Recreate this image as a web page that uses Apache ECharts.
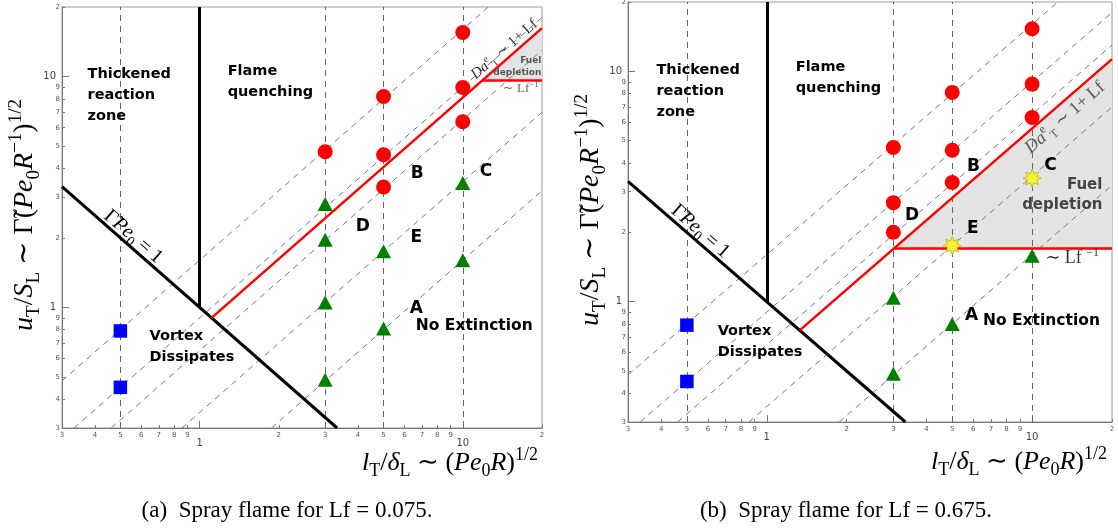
<!DOCTYPE html>
<html><head><meta charset="utf-8">
<script src="https://cdn.jsdelivr.net/npm/echarts@6/dist/echarts.min.js"></script>
<style>html,body{margin:0;padding:0;background:#fff}#c{width:1118px;height:529px}</style>
</head><body><div id="c"></div>
<script>
// ---------- axis ranges & ticks ----------
const xRange = [0.3, 20];
const yRange = [0.3, 20];
const tickValues = [0.3,0.4,0.5,0.6,0.7,0.8,0.9,2,3,4,5,6,7,8,9,20];
const tickLabels = ['3','4','5','6','7','8','9','2','3','4','5','6','7','8','9','2'];
const majorTickValues = [1, 10];
const majorTickLabels = ['1', '10'];

// ---------- guide lines ----------
const guideX = [0.5, 3, 5, 10];              // vertical dashed lines
const guideK = [1.6, 0.9, 0.65, 0.35, 0.16]; // diagonal dashed lines  y = k x
const boundaryLine = [[0.3, 3.33], [3.33, 0.3]];  // Gamma Pe0 = 1
const quenchLine = [[1, 1], [1, 20]];

// ---------- panel (a) Lf = 0.075 ----------
const aRedX = [3, 5, 5, 5, 10, 10, 10];
const aRedY = [4.72, 8.19, 4.58, 3.32, 15.5, 8.96, 6.37];
const aGreenX = [3, 3, 3, 3, 5, 5, 10, 10];
const aGreenY = [2.8, 1.96, 1.05, 0.486, 1.75, 0.81, 3.46, 1.6];
const aBlueX = [0.5, 0.5];
const aBlueY = [0.79, 0.45];
const aDaLine = [[1.11, 0.9], [20, 16.2]];
const aLfLine = [[11.9, 9.6], [20, 9.6]];
const aFill = [[11.9, 9.6], [20, 16.2], [20, 9.6]];

// ---------- panel (b) Lf = 0.675 ----------
const bRedX = [3, 3, 3, 5, 5, 5, 10, 10, 10];
const bRedY = [4.67, 2.69, 2.0, 8.1, 4.54, 3.29, 15.3, 8.8, 6.3];
const bGreenX = [3, 3, 5, 10];
const bGreenY = [1.04, 0.486, 0.8, 1.58];
const bStarX = [5, 10];
const bStarY = [1.75, 3.43];
const bBlueX = [0.5, 0.5];
const bBlueY = [0.79, 0.45];
const bDaLine = [[1.33, 0.75], [20, 11.3]];
const bLfLine = [[3, 1.7], [20, 1.7]];
const bFill = [[3, 1.7], [20, 11.3], [20, 1.7]];

// ---------- texts ----------
const GAMMA = '{r|\u0393\u0303}{i|Pe}{sub|0}{r| = 1}';
const DA = '{i|Da}{sup|e}{sub|T}{r| \u223C 1+ Lf}';
const LF = '{r|\u223C Lf}{sup|\u22121}';
const LF2 = '{r|\u223C Lf }{sup|\u22121}';
const aNotes = [
  ['Thickened\nreaction\nzone', 0.375, 8.3, 'region'],
  ['Flame\nquenching', 1.278, 9.46, 'region'],
  ['Vortex\nDissipates', 0.645, 0.677, 'region'],
  ['No Extinction', 6.63, 0.827, 'plain'],
  ['A', 6.29, 0.99, 'letter'],
  ['B', 6.35, 3.79, 'letter'],
  ['C', 11.6, 3.87, 'letter'],
  ['D', 3.92, 2.23, 'letter'],
  ['E', 6.33, 2.0, 'letter'],
  ['Fuel\ndepletion', 19.9, 11.0, 'fuelSmall'],
  [DA, 14.4, 13.1, 'daSmall'],
  [LF, 14.2, 8.85, 'lfSmall'],
  [GAMMA, 0.56, 2.02, 'gamma']
];
const bNotes = [
  ['Thickened\nreaction\nzone', 0.384, 8.2, 'region'],
  ['Flame\nquenching', 1.286, 9.37, 'region'],
  ['Vortex\nDissipates', 0.653, 0.667, 'region'],
  ['No Extinction', 6.53, 0.82, 'plain'],
  ['A', 5.58, 0.87, 'letter'],
  ['B', 5.68, 3.87, 'letter'],
  ['C', 11.1, 3.9, 'letter'],
  ['D', 3.32, 2.37, 'letter'],
  ['E', 5.68, 2.08, 'letter'],
  ['Fuel\ndepletion', 18.4, 2.89, 'fuelBig'],
  [DA, 13.3, 6.3, 'daBig'],
  [LF2, 11.2, 1.54, 'lfBig'],
  [GAMMA, 0.562, 2.02, 'gamma']
];
const captions = ['(a)  Spray flame for Lf = 0.075.', '(b)  Spray flame for Lf = 0.675.'];

// ---------- styles ----------
const SERIF = "'Liberation Serif', 'DejaVu Serif', serif";
const SANS = "'DejaVu Sans', sans-serif";
function mathRich(size, color) {
  const s = Math.round(size * 0.68);
  return {
    i: {fontFamily: SERIF, fontStyle: 'italic', fontSize: size, color: color, lineHeight: size * 1.3},
    r: {fontFamily: SERIF, fontSize: size, color: color, lineHeight: size * 1.3},
    sub: {fontFamily: SERIF, fontSize: s, color: color, verticalAlign: 'bottom', lineHeight: s * 1.05},
    sup: {fontFamily: SERIF, fontSize: s, color: color, verticalAlign: 'top', lineHeight: s * 1.05}
  };
}
const kindStyle = {
  region: {align: 'left', verticalAlign: 'middle', fontFamily: SANS, fontWeight: 'bold', fontSize: 14.5, lineHeight: 21, color: '#000'},
  plain: {align: 'left', verticalAlign: 'middle', fontFamily: SANS, fontWeight: 'bold', fontSize: 15.5, color: '#000'},
  letter: {align: 'left', verticalAlign: 'middle', fontFamily: SANS, fontWeight: 'bold', fontSize: 17, color: '#000'},
  fuelSmall: {align: 'right', verticalAlign: 'middle', fontFamily: SANS, fontWeight: 'bold', fontSize: 9, lineHeight: 12, color: '#555'},
  fuelBig: {align: 'right', verticalAlign: 'middle', fontFamily: SANS, fontWeight: 'bold', fontSize: 15, lineHeight: 20, color: '#444'},
  daSmall: {align: 'center', verticalAlign: 'middle', rotate: 41, rich: mathRich(15, '#333')},
  daBig: {align: 'center', verticalAlign: 'middle', rotate: 41, rich: mathRich(18, '#555')},
  lfSmall: {align: 'left', verticalAlign: 'middle', rich: mathRich(13, '#666')},
  lfBig: {align: 'left', verticalAlign: 'middle', rich: mathRich(18, '#333')},
  gamma: {align: 'center', verticalAlign: 'middle', rotate: -41, rich: mathRich(20, '#000')}
};

function nearestLabel(v, vals, labs) {
  let best = 0, bd = Infinity;
  vals.forEach((t, i) => { const d = Math.abs(Math.log10(v) - Math.log10(t)); if (d < bd) { bd = d; best = i; } });
  return labs[best];
}
function axisPair(dim, gi, range) {
  const pos = dim === 'x' ? 'bottom' : 'left';
  const base = {type: 'log', logBase: 10, gridIndex: gi, min: range[0], max: range[1], position: pos,
    splitLine: {show: false}, minorTick: {show: false}, axisPointer: {show: false}};
  const minor = Object.assign({}, base, {
    axisLine: {show: true, onZero: false, lineStyle: {color: '#777', width: 1}},
    axisTick: {show: true, inside: true, length: 3, customValues: tickValues, lineStyle: {color: '#777'}},
    axisLabel: {show: true, customValues: tickValues, formatter: v => nearestLabel(v, tickValues, tickLabels),
      fontSize: 7, color: '#555', fontFamily: SANS, margin: dim === 'x' ? 4 : 2, hideOverlap: false}
  });
  const major = Object.assign({}, base, {
    axisLine: {show: false},
    axisTick: {show: true, inside: true, length: 7, customValues: majorTickValues, lineStyle: {color: '#777'}},
    axisLabel: {show: true, customValues: majorTickValues, formatter: v => nearestLabel(v, majorTickValues, majorTickLabels),
      fontSize: 10, color: '#444', fontFamily: SANS, margin: dim === 'x' ? 10 : 6, hideOverlap: false}
  });
  return [minor, major];
}

function starPath(n, rIn) {
  let d = '';
  for (let i = 0; i < 2 * n; i++) {
    const a = i * Math.PI / n - Math.PI / 2;
    const r = i % 2 ? rIn : 1;
    d += (i ? 'L' : 'M') + (50 + 50 * r * Math.cos(a)).toFixed(2) + ' ' + (50 + 50 * r * Math.sin(a)).toFixed(2);
  }
  return 'path://' + d + 'Z';
}
const STAR = starPath(8, 0.55);

function zip(xs, ys) { return xs.map((x, i) => [x, ys[i]]); }

function panelSeries(gi, P) {
  const xi = gi * 2, yi = gi * 2;
  const ax = {xAxisIndex: xi, yAxisIndex: yi};
  const vLines = guideX.map(x => ({coords: [[x, yRange[0]], [x, yRange[1]]]}));
  const dLines = guideK.map(k => {
    const x1 = Math.max(xRange[0], yRange[0] / k), x2 = Math.min(xRange[1], yRange[1] / k);
    return {coords: [[x1, k * x1], [x2, k * x2]]};
  });
  const s = [];
  s.push(Object.assign({
    type: 'custom', coordinateSystem: 'cartesian2d', z: 1, silent: true, clip: true,
    data: [P.fill[0]],
    renderItem: (params, api) => ({
      type: 'polygon', shape: {points: P.fill.map(v => api.coord(v))},
      style: {fill: '#e4e4e4', stroke: null}
    })
  }, ax));
  s.push(Object.assign({type: 'lines', coordinateSystem: 'cartesian2d', z: 2, silent: true, polyline: false,
    lineStyle: {color: '#666', width: 1, type: [6, 5], opacity: 1}, data: vLines}, ax));
  s.push(Object.assign({type: 'lines', coordinateSystem: 'cartesian2d', z: 2, silent: true, polyline: false,
    lineStyle: {color: '#777', width: 1, type: [6, 5], opacity: 1}, data: dLines}, ax));
  s.push(Object.assign({type: 'lines', coordinateSystem: 'cartesian2d', z: 3, silent: true, polyline: false,
    lineStyle: {color: '#000', width: 3, opacity: 1},
    data: [{coords: boundaryLine}, {coords: quenchLine}]}, ax));
  s.push(Object.assign({type: 'lines', coordinateSystem: 'cartesian2d', z: 3, silent: true, polyline: false,
    lineStyle: {color: '#ff0000', width: 2.5, opacity: 1},
    data: [{coords: P.da}, {coords: P.lf}]}, ax));
  s.push(Object.assign({type: 'scatter', z: 4, silent: true, symbol: 'circle', symbolSize: 15,
    itemStyle: {color: '#ff0000', opacity: 1}, data: zip(P.redX, P.redY)}, ax));
  s.push(Object.assign({type: 'scatter', z: 4, silent: true, symbol: 'triangle', symbolSize: [15, 14],
    itemStyle: {color: '#008000', opacity: 1}, data: zip(P.greenX, P.greenY)}, ax));
  s.push(Object.assign({type: 'scatter', z: 4, silent: true, symbol: 'rect', symbolSize: 13.5,
    itemStyle: {color: '#0000ff', opacity: 1}, data: zip(P.blueX, P.blueY)}, ax));
  if (P.starX) {
    s.push(Object.assign({type: 'scatter', z: 4, silent: true, symbol: STAR, symbolSize: 18,
      itemStyle: {color: '#f4f23a', borderColor: '#b8b400', borderWidth: 0.8, opacity: 1}, data: zip(P.starX, P.starY)}, ax));
  }
  s.push(Object.assign({type: 'scatter', z: 5, silent: true, symbolSize: 0, itemStyle: {opacity: 1},
    data: P.notes.map(n => ({value: [n[1], n[2]],
      label: Object.assign({show: true, position: 'inside', opacity: 1, formatter: n[0]}, kindStyle[n[3]])}))}, ax));
  return s;
}

const series = [].concat(
  panelSeries(0, {fill: aFill, da: aDaLine, lf: aLfLine, redX: aRedX, redY: aRedY, greenX: aGreenX, greenY: aGreenY,
    blueX: aBlueX, blueY: aBlueY, notes: aNotes}),
  panelSeries(1, {fill: bFill, da: bDaLine, lf: bLfLine, redX: bRedX, redY: bRedY, greenX: bGreenX, greenY: bGreenY,
    blueX: bBlueX, blueY: bBlueY, starX: bStarX, starY: bStarY, notes: bNotes})
);

const yTitle = '{i|u}{sub|T}{r|/}{i|S}{sub|L}{r| \u223C }{r|\u0393\u0303}{r|(}{i|Pe}{sub|0}{i|R}{sup|\u22121}{r|)}{sup|1/2}';
const xTitle = '{i|l}{sub|T}{r|/}{i|\u03B4}{sub|L}{r| \u223C (}{i|Pe}{sub|0}{i|R}{r|)}{sup|1/2}';

const option = {
  backgroundColor: '#fff',
  animation: false,
  grid: [
    {left: 62, right: 576, top: 7, bottom: 101, show: true, borderColor: '#999', borderWidth: 1, outerBoundsMode: 'none', containLabel: false},
    {left: 628, right: 6, top: 2, bottom: 107, show: true, borderColor: '#999', borderWidth: 1, outerBoundsMode: 'none', containLabel: false}
  ],
  xAxis: [].concat(axisPair('x', 0, xRange), axisPair('x', 1, xRange)),
  yAxis: [].concat(axisPair('y', 0, yRange), axisPair('y', 1, yRange)),
  series: series,
  graphic: [
    {type: 'text', x: 25, y: 215, rotation: Math.PI / 2, silent: true,
      style: {text: yTitle, rich: mathRich(28, '#000'), align: 'center', verticalAlign: 'middle'}},
    {type: 'text', x: 591, y: 210, rotation: Math.PI / 2, silent: true,
      style: {text: yTitle, rich: mathRich(28, '#000'), align: 'center', verticalAlign: 'middle'}},
    {type: 'text', x: 538, y: 463, silent: true,
      style: {text: xTitle, rich: mathRich(26, '#000'), align: 'right', verticalAlign: 'middle'}},
    {type: 'text', x: 1107, y: 462, silent: true,
      style: {text: xTitle, rich: mathRich(26, '#000'), align: 'right', verticalAlign: 'middle'}},
    {type: 'text', x: 287, y: 511, silent: true,
      style: {text: captions[0], font: "23px 'Liberation Serif', serif", fill: '#000', align: 'center', verticalAlign: 'middle'}},
    {type: 'text', x: 846, y: 511, silent: true,
      style: {text: captions[1], font: "23px 'Liberation Serif', serif", fill: '#000', align: 'center', verticalAlign: 'middle'}}
  ]
};
const chart = echarts.init(document.getElementById('c'), null, {renderer: 'canvas', width: 1118, height: 529});
chart.setOption(option);
</script>
</body></html>
